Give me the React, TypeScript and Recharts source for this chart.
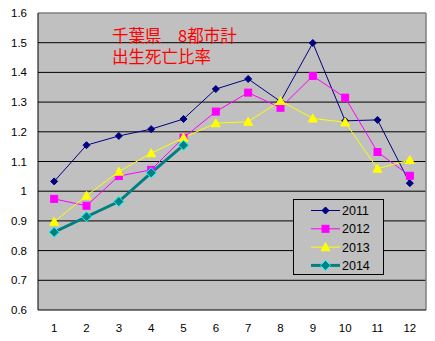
import React from "react";
import {
  CartesianGrid,
  Line,
  LineChart,
  ReferenceLine,
  XAxis,
  YAxis,
} from "recharts";

const months = [1, 2, 3, 4, 5, 6, 7, 8, 9, 10, 11, 12];
const y2011 = [1.033, 1.155, 1.186, 1.209, 1.243, 1.344, 1.378, 1.302, 1.499, 1.237, 1.24, 1.027];
const y2012 = [0.974, 0.951, 1.051, 1.072, 1.18, 1.268, 1.332, 1.281, 1.388, 1.315, 1.132, 1.052];
const y2013 = [0.897, 0.985, 1.066, 1.128, 1.18, 1.229, 1.234, 1.304, 1.245, 1.232, 1.076, 1.105];
const y2014 = [0.862, 0.914, 0.965, 1.062, 1.155];
const yTicks = [0.6, 0.7, 0.8, 0.9, 1, 1.1, 1.2, 1.3, 1.4, 1.5, 1.6];
const gridValues = [0.7, 0.8, 0.9, 1, 1.1, 1.2, 1.3, 1.4, 1.5];
const boundaryTicks = [1.5, 2.5, 3.5, 4.5, 5.5, 6.5, 7.5, 8.5, 9.5, 10.5, 11.5];

const data = months.map((m, i) => ({
  month: m,
  "2011": y2011[i],
  "2012": y2012[i],
  "2013": y2013[i],
  "2014": y2014[i],
}));

type Shape = "diamond" | "square" | "triangle" | "bigDiamond";

function Marker({ cx, cy, shape, fill, stroke }: { cx: number; cy: number; shape: Shape; fill: string; stroke: string }) {
  if (cx == null || cy == null || isNaN(cx) || isNaN(cy)) return null;
  if (shape === "diamond") {
    const r = 3.5;
    return <polygon points={`${cx},${cy - r} ${cx + r},${cy} ${cx},${cy + r} ${cx - r},${cy}`} fill={fill} stroke={stroke} />;
  }
  if (shape === "square") {
    const r = 3.5;
    return <rect x={cx - r} y={cy - r} width={2 * r} height={2 * r} fill={fill} stroke={stroke} />;
  }
  if (shape === "triangle") {
    const r = 4.5;
    return <polygon points={`${cx},${cy - r} ${cx + r},${cy + r * 0.8} ${cx - r},${cy + r * 0.8}`} fill={fill} stroke={stroke} />;
  }
  const r = 5;
  return <polygon points={`${cx},${cy - r} ${cx + r},${cy} ${cx},${cy + r} ${cx - r},${cy}`} fill={fill} stroke={stroke} strokeWidth={1} />;
}

const series = [
  { key: "2011", color: "#000080", width: 1, shape: "diamond" as Shape, fill: "#000080", mstroke: "#000080" },
  { key: "2012", color: "#FF00FF", width: 1, shape: "square" as Shape, fill: "#FF00FF", mstroke: "#FF00FF" },
  { key: "2013", color: "#FFFF00", width: 1, shape: "triangle" as Shape, fill: "#FFFF00", mstroke: "#FFFF00" },
  { key: "2014", color: "#008080", width: 3, shape: "bigDiamond" as Shape, fill: "#008080", mstroke: "#00FFFF" },
];

function LegendBox() {
  return (
    <div
      style={{
        position: "absolute",
        left: 293,
        top: 199,
        width: 89,
        height: 74,
        border: "1px solid #000",
        background: "#C0C0C0",
      }}
    >
      <svg width={89} height={74} style={{ display: "block" }}>
        {series.map((s, i) => {
          const y = 10.5 + i * 18.3;
          return (
            <g key={s.key}>
              <line x1={17} x2={46} y1={y} y2={y} stroke={s.color} strokeWidth={s.width} />
              <Marker cx={31.5} cy={y} shape={s.shape} fill={s.fill} stroke={s.mstroke} />
              <text x={48} y={y + 4.5} fontSize={12.5} fontFamily="Liberation Sans, Arial, sans-serif" fill="#000">
                {s.key}
              </text>
            </g>
          );
        })}
      </svg>
    </div>
  );
}

export default function App() {
  return (
    <div style={{ position: "relative", width: 435, height: 341, margin: -8, background: "#fff" }}>
      <LineChart width={435} height={341} data={data} margin={{ top: 13, right: 9, bottom: 0, left: 0 }}>
        <CartesianGrid vertical={false} horizontalValues={gridValues} stroke="#000" fill="#C0C0C0" fillOpacity={1} />
        <ReferenceLine y={1.6} stroke="#808080" strokeWidth={1.5} />
        <ReferenceLine x={12.5} stroke="#808080" strokeWidth={1.5} />
        <XAxis
          dataKey="month"
          type="number"
          domain={[0.5, 12.5]}
          ticks={months}
          allowDataOverflow
          height={31}
          tickLine={false}
          axisLine={{ stroke: "#000" }}
          tickMargin={8}
          tick={{ fontSize: 11.5, fill: "#000", fontFamily: "Liberation Sans, Arial, sans-serif" }}
        />
        <XAxis
          xAxisId="b"
          dataKey="month"
          type="number"
          domain={[0.5, 12.5]}
          ticks={boundaryTicks}
          allowDataOverflow
          mirror
          height={0}
          tickSize={4}
          axisLine={false}
          tickLine={{ stroke: "#000" }}
          tickFormatter={() => ""}
        />
        <YAxis
          type="number"
          domain={[0.6, 1.6]}
          ticks={yTicks}
          width={38}
          tickLine={false}
          axisLine={{ stroke: "#000" }}
          tickMargin={5}
          tickFormatter={(v: number) => String(Math.round(v * 10) / 10)}
          tick={{ fontSize: 11.5, fill: "#000", fontFamily: "Liberation Sans, Arial, sans-serif" }}
        />
        {series.map((s) => (
          <Line
            key={s.key}
            dataKey={s.key}
            stroke={s.color}
            strokeWidth={s.width}
            isAnimationActive={false}
            dot={(p: any) => <Marker key={`${s.key}-${p.index}`} cx={p.cx} cy={p.cy} shape={s.shape} fill={s.fill} stroke={s.mstroke} />}
            activeDot={false}
          />
        ))}
      </LineChart>
      <LegendBox />
      <div
        style={{
          position: "absolute",
          left: 112,
          top: 25,
          color: "#FF0000",
          fontFamily: "'Noto Sans CJK JP', sans-serif",
          fontSize: 16.5,
          lineHeight: "21px",
          whiteSpace: "pre",
        }}
      >
        {"千葉県　8都市計\n出生死亡比率"}
      </div>
    </div>
  );
}
